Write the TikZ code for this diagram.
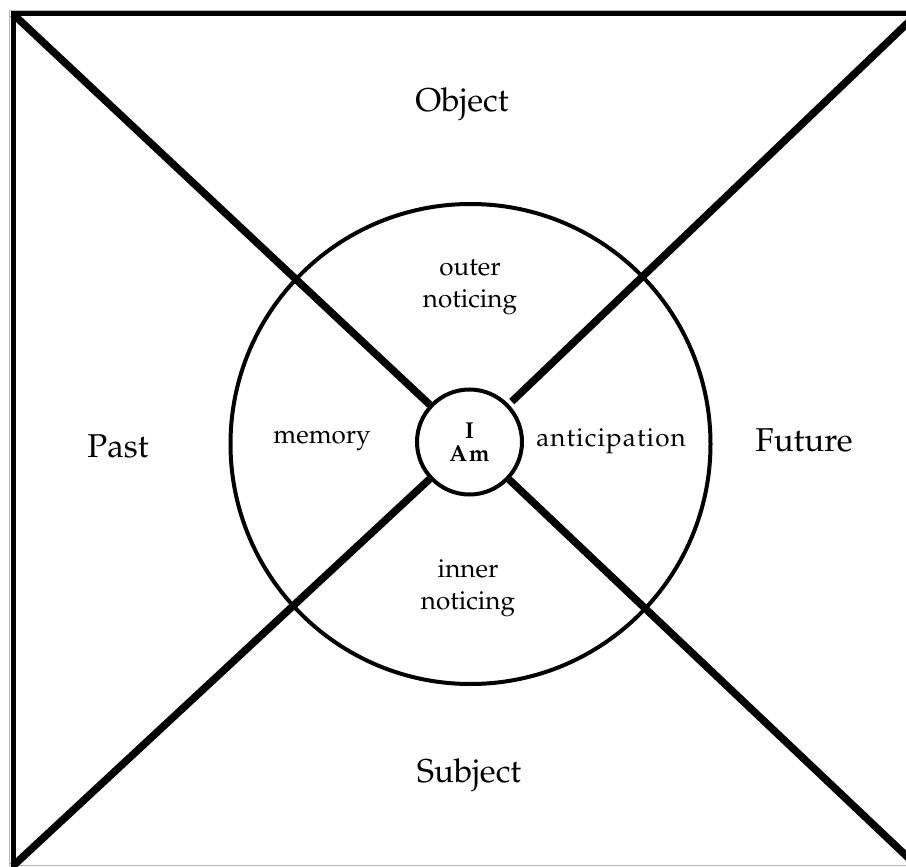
\documentclass[tikz,border=0pt]{standalone}
\usepackage[T1]{fontenc}
\renewcommand{\rmdefault}{ppl}
\begin{document}
\begin{tikzpicture}[x=1pt,y=-1pt,
  edge/.style={gray!55,line width=1pt},
  frameline/.style={line width=5pt},
  diag/.style={line width=7.5pt},
  ring/.style={line width=4pt},
  biglabel/.style={font=\fontsize{33}{36}\selectfont},
  ringlabel/.style={font=\fontsize{26}{32}\selectfont,align=center},
  self/.style={circle,draw,ring,fill=white,minimum size=105pt,inner sep=0pt,
    font=\bfseries\fontsize{23}{24}\selectfont,align=center}]
\useasboundingbox (0,0) rectangle (906,867);
\clip (0,0) rectangle (906,867);

% outer edge and frame
\draw[edge] (906,10.5) -- (9,10.5) -- (9,865.5) -- (906,865.5);
\draw[frameline] (920,14) -- (13.5,14) -- (13.5,870);

% frame corners
\coordinate (tl) at (13,14);
\coordinate (tr) at (917,14);
\coordinate (bl) at (13,866);
\coordinate (br) at (917,866);

% outer ring
\draw[ring] (470.5,444) circle (240);

% centre
\node[self] (I) at (469.5,442) {I\\[-1pt]A\kern2pt m};

% diagonals from the corners to the centre
\draw[diag] (tl) -- (I);
\draw[diag,shorten >=4pt] (tr) -- (I);
\draw[diag] (bl) -- (I);
\draw[diag] (br) -- (I);

% labels
\node[biglabel] (object) at (462,104) {Object};
\node[biglabel] (past) at (118,446) {Past};
\node[biglabel] (future) at (804,440) {Future};
\node[biglabel] (subject) at (469,775) {Subject};
\node[ringlabel] (outer) at (470,287) {outer\\noticing};
\node[ringlabel] (inner) at (468,588) {inner\\noticing};
\node[ringlabel] (memory) at (322,441) {memory};
\node[ringlabel] (antic) at (611,441)
  {a\kern1.1pt n\kern1.1pt t\kern1.1pt i\kern1.1pt c\kern1.1pt i\kern1.1pt
   p\kern1.1pt a\kern1.1pt t\kern1.1pt i\kern1.1pt o\kern1.1pt n};
\end{tikzpicture}
\end{document}
